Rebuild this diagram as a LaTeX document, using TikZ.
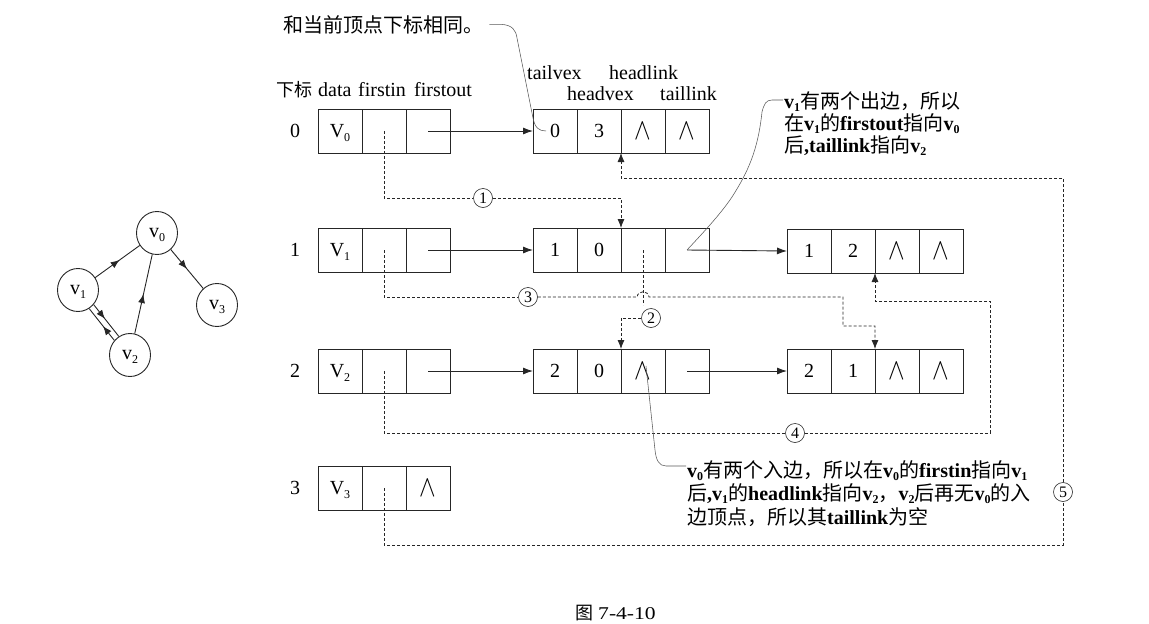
\documentclass[tikz,border=0pt]{standalone}
\usepackage{fontspec}
\setmainfont{Liberation Serif}
\newfontfamily\cjk{Noto Sans CJK SC}
\usetikzlibrary{arrows.meta,shapes.geometric,decorations.markings}
\newcommand\zh[1]{{\cjk\mdseries #1}}
\newcommand\mysub[1]{\raisebox{-0.4ex}[0pt][0pt]{\fontsize{12}{12}\selectfont #1}}
\newcommand\nullsym{\scalebox{1.2}[1.45]{$\wedge$}}
\begin{document}
\begin{tikzpicture}[x=1pt,y=-1pt,
  ink/.style={draw=black!85, line width=0.9pt},
  cell/.style={ink, rectangle, minimum width=44pt, minimum height=44pt, inner sep=0pt, outer sep=0pt, font=\fontsize{20}{24}\selectfont},
  lbl/.style={inner sep=0pt, font=\fontsize{20}{24}\selectfont},
  callout/.style={inner sep=0pt, anchor=base west, font=\fontsize{20}{24}\selectfont\bfseries},
  ptr/.style={ink, -{Latex[length=10pt,width=7pt]}},
  dsh/.style={draw=black!85, line width=0.8pt, dash pattern=on 3pt off 2pt},
  dptr/.style={dsh, -{Latex[length=9pt,width=7pt]}},
  num/.style={circle, draw=black!85, line width=0.6pt, fill=white, minimum size=19pt, inner sep=0pt, font=\fontsize{16}{16}\selectfont},
  note/.style={draw=black!65, line width=0.55pt},
  gv/.style={ellipse, ink, minimum width=41pt, minimum height=43pt, inner sep=0pt, font=\fontsize{20}{24}\selectfont},
  mid/.style={postaction={decorate}, decoration={markings, mark=at position #1 with {\arrow{Latex[length=9pt,width=7pt]}}}},
]
\useasboundingbox (0,0) rectangle (1149,624);

% ---------- left graph ----------
\node[gv] (v0) at (157,233) {v\mysub{0}};
\node[gv] (v1) at (78,290) {v\mysub{1}};
\node[gv] (v2) at (130,355) {v\mysub{2}};
\node[gv] (v3) at (217,305) {v\mysub{3}};
\draw[ink, mid=0.55] (v1) -- (v0);
\draw[ink, mid=0.5] (v0) -- (v3);
\draw[ink, mid=0.5] (v2) -- (v0);
\draw[ink, mid=0.45] (v1.-43) -- (v2.121);
\draw[ink, mid=0.45] (v2.137) -- (v1.-59);

% ---------- headers ----------
\node[lbl, anchor=base west, font=\fontsize{18}{20}\selectfont] (h0) at (276,96) {\zh{下标}};
\node[lbl, anchor=base west] (h1) at (318,96) {data};
\node[lbl, anchor=base west] (h2) at (358,96) {firstin};
\node[lbl, anchor=base west] (h3) at (414,96) {firstout};
\node[lbl, anchor=base west] (h4) at (527,79) {tailvex};
\node[lbl, anchor=base west] (h5) at (609,79) {headlink};
\node[lbl, anchor=base west] (h6) at (567,100) {headvex};
\node[lbl, anchor=base west] (h7) at (660,100) {taillink};

% ---------- vertex table ----------
\node[lbl] (i0) at (295,131) {0};
\node[lbl] (i1) at (295,250) {1};
\node[lbl] (i2) at (295,371) {2};
\node[lbl] (i3) at (295,488) {3};

\node[cell] (r0a) at (340,131) {V\mysub{0}};
\node[cell] (r0b) at (384,131) {};
\node[cell] (r0c) at (428,131) {};
\node[cell] (r1a) at (340,250) {V\mysub{1}};
\node[cell] (r1b) at (384,250) {};
\node[cell] (r1c) at (428,250) {};
\node[cell] (r2a) at (340,371) {V\mysub{2}};
\node[cell] (r2b) at (384,371) {};
\node[cell] (r2c) at (428,371) {};
\node[cell] (r3a) at (340,488) {V\mysub{3}};
\node[cell] (r3b) at (384,488) {};
\node[cell] (r3c) at (428,488) {\nullsym};

% ---------- arc nodes ----------
\node[cell] (e0a) at (555,131) {0};
\node[cell] (e0b) at (599,131) {3};
\node[cell] (e0c) at (643,131) {\nullsym};
\node[cell] (e0d) at (687,131) {\nullsym};

\node[cell] (e1a) at (555,250) {1};
\node[cell] (e1b) at (599,250) {0};
\node[cell] (e1c) at (643,250) {};
\node[cell] (e1d) at (687,250) {};
\node[cell] (g1a) at (809,251) {1};
\node[cell] (g1b) at (853,251) {2};
\node[cell] (g1c) at (897,251) {\nullsym};
\node[cell] (g1d) at (941,251) {\nullsym};

\node[cell] (e2a) at (555,371) {2};
\node[cell] (e2b) at (599,371) {0};
\node[cell] (e2c) at (643,371) {\nullsym};
\node[cell] (e2d) at (687,371) {};
\node[cell] (g2a) at (809,371) {2};
\node[cell] (g2b) at (853,371) {1};
\node[cell] (g2c) at (897,371) {\nullsym};
\node[cell] (g2d) at (941,371) {\nullsym};

% ---------- solid pointers ----------
\draw[ptr] (r0c.center) -- (e0a.west);
\draw[ptr] (r1c.center) -- (e1a.west);
\draw[ptr] (e1d.center) -- (g1a.west);
\draw[ptr] (r2c.center) -- (e2a.west);
\draw[ptr] (e2d.center) -- (g2a.west);

% ---------- numbered dashed links ----------
\node[num] (c1) at (483,198) {1};
\node[num] (c2) at (651,318) {2};
\node[num] (c3) at (528,297) {3};
\node[num] (c4) at (795,433) {4};
\node[num] (c5) at (1063,492) {5};

\draw[dsh] (r0b.center) |- (c1);
\draw[dptr] (c1) -| (e1b.north east);

\draw[dsh] (e1c.center) -- (643,305);
\draw[dptr] (c2) -| (e2b.north east);

\draw[dsh] (r1b.center) |- (c3);
\draw[dptr] (c3) -- (637,297) .. controls (638,290) and (648,290) .. (649,297) -- (843,297) -- (843,326) -| (g2b.north east);

\draw[dsh] (r2b.center) |- (c4);
\draw[dptr] (c4) -- (990,433) -- (990,301) -| (g1b.south east);

\draw[dsh] (r3b.center) |- (1063,545) -- (c5);
\draw[dptr] (c5) -- (1063,178) -| (e0b.south east);

% ---------- callouts ----------
\node[lbl, anchor=base west] (t1) at (283,32) {\zh{和当前顶点下标相同。}};
\draw[note] (t1.east) ++(6,0) coordinate (t1s) (t1s) -- ++(12,0) .. controls (512,25) and (516,30) .. (517,38) -- (533,118) .. controls (535,128) and (539,131) .. (546,131);

\node[callout] (t2a) at (784,108) {v\mysub{1}\zh{有两个出边，所以}};
\node[callout] (t2b) at (784,130) {\zh{在}v\mysub{1}\zh{的}firstout\zh{指向}v\mysub{0}};
\node[callout] (t2c) at (784,152) {\zh{后},taillink\zh{指向}v\mysub{2}};
\draw[note] (783,100) -- (772,100) .. controls (766,100) and (764,104) .. (762,112) .. controls (758,150) and (748,172) .. (732,197) .. controls (720,215) and (700,236) .. (e1d.center);

\node[callout] (t3a) at (687,477) {v\mysub{0}\zh{有两个入边，所以在}v\mysub{0}\zh{的}firstin\zh{指向}v\mysub{1}};
\node[callout] (t3b) at (687,500) {\zh{后},v\mysub{1}\zh{的}headlink\zh{指向}v\mysub{2}\zh{，}v\mysub{2}\zh{后再无}v\mysub{0}\zh{的入}};
\node[callout] (t3c) at (687,524) {\zh{边顶点，所以其}taillink\zh{为空}};
\draw[note] (686,466) -- (666,466) .. controls (659,466) and (656,460) .. (655,450) -- (646,366);

% ---------- caption ----------
\node[lbl, anchor=base west, font=\fontsize{18}{20}\selectfont] (cap) at (575,619) {\zh{图}\hspace{5pt}\scalebox{1.2}[1]{7-4-10}};
\end{tikzpicture}
\end{document}
